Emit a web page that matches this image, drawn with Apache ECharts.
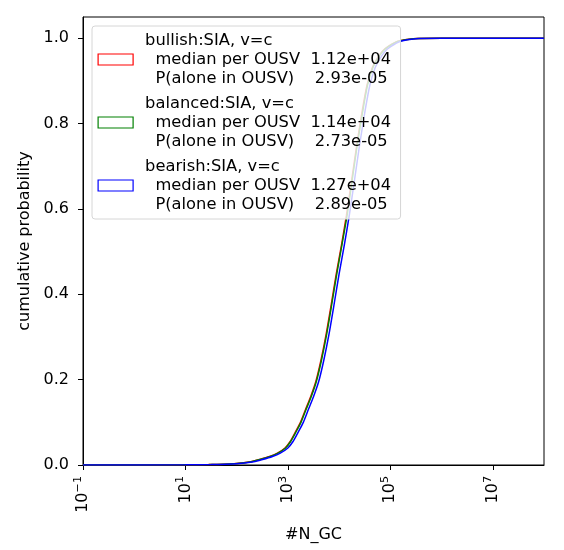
<!DOCTYPE html>
<html>
<head>
<meta charset="utf-8">
<script src="https://cdn.jsdelivr.net/npm/echarts@6/dist/echarts.min.js"></script>
<style>
  html, body { margin: 0; padding: 0; background: #fff; }
  #chart { width: 564px; height: 550px; }
</style>
</head>
<body>
<div id="chart"></div>
<script>
// cumulative probability levels shared by the three curves
var cumProb = [0, 0.0005, 0.001, 0.003, 0.007, 0.013, 0.02, 0.028, 0.04, 0.055, 0.077, 0.10, 0.13,
  0.16, 0.195, 0.245, 0.305, 0.375, 0.448, 0.515, 0.585, 0.668, 0.75, 0.825, 0.89, 0.93, 0.953,
  0.97, 0.98, 0.993, 0.999, 1, 1];

// #N_GC reached at each level
var nBullish = [0.1, 9, 28, 88, 175, 280, 440, 625, 880, 1110, 1400, 1760, 2210, 2780, 3500,
  4410, 5550, 6990, 8800, 11100, 13900, 17600, 22100, 27800, 35000, 44100, 55500, 69900,
  88000, 140000, 280000, 1000000, 100000000];
var nBalanced = [0.1, 9, 29, 90, 180, 285, 450, 640, 900, 1130, 1430, 1800, 2260, 2850, 3580,
  4510, 5680, 7150, 9000, 11300, 14300, 18000, 22600, 28500, 35800, 45100, 56800, 71500,
  90000, 143000, 285000, 1000000, 100000000];
var nBearish = [0.1, 10, 32, 100, 200, 320, 500, 710, 1000, 1260, 1590, 2000, 2510, 3160, 3980,
  5010, 6310, 7940, 10000, 12600, 15800, 20000, 25100, 31600, 39800, 50100, 63100, 79400,
  100000, 158000, 316000, 1000000, 100000000];

var seriesNames = [
  'bullish:SIA, v=c\n  median per OUSV  1.12e+04\n  P(alone in OUSV)    2.93e-05',
  'balanced:SIA, v=c\n  median per OUSV  1.14e+04\n  P(alone in OUSV)    2.73e-05',
  'bearish:SIA, v=c\n  median per OUSV  1.27e+04\n  P(alone in OUSV)    2.89e-05'
];
var seriesColors = ['#ff0000', '#008000', '#0000ff'];

var xTicks = [0.1, 10, 1000, 100000, 10000000];
var xTickExponents = ['−1', '1', '3', '5', '7'];
var yTicks = [0, 0.2, 0.4, 0.6, 0.8, 1.0];

var font = 'DejaVu Sans';
var fontSize = 16;

function pairs(xs, ys) {
  var out = [];
  for (var i = 0; i < xs.length; i++) {
    out.push([xs[i], ys[i]]);
  }
  return out;
}

var allN = [nBullish, nBalanced, nBearish];
var series = [];
var legendData = [];
for (var i = 0; i < 3; i++) {
  series.push({
    name: seriesNames[i],
    type: 'line',
    data: pairs(allN[i], cumProb),
    showSymbol: false,
    smooth: 0.25,
    lineStyle: { color: seriesColors[i], width: 1.5 },
    itemStyle: { color: seriesColors[i] }
  });
  legendData.push({
    name: seriesNames[i],
    icon: 'rect',
    itemStyle: { color: 'rgba(0,0,0,0)', borderColor: seriesColors[i], borderWidth: 1.2 }
  });
}

var option = {
  animation: false,
  grid: {
    left: 83,
    right: 20,
    top: 17,
    bottom: 85,
    outerBoundsMode: 'none',
    show: true,
    borderColor: '#000',
    borderWidth: 1
  },
  legend: {
    orient: 'vertical',
    left: 92,
    top: 26,
    padding: [5, 9.5, 5, 5.5],
    itemGap: 6,
    itemWidth: 35,
    itemHeight: 11,
    backgroundColor: 'rgba(255,255,255,0.8)',
    borderColor: '#d6d6d6',
    borderWidth: 1,
    borderRadius: 3,
    data: legendData,
    textStyle: {
      fontFamily: font,
      fontSize: 16.3,
      color: '#000',
      lineHeight: 19,
      padding: [0, 0, 0, 7]
    }
  },
  xAxis: {
    type: 'log',
    logBase: 10,
    min: 0.1,
    max: 100000000,
    name: '#N_GC',
    nameLocation: 'middle',
    nameGap: 62,
    nameTextStyle: { fontFamily: font, fontSize: fontSize, color: '#000' },
    axisLine: { lineStyle: { color: '#000', width: 1 } },
    axisTick: { customValues: xTicks, length: 5, lineStyle: { color: '#000' } },
    axisLabel: {
      customValues: xTicks,
      rotate: 90,
      margin: 11,
      formatter: function (v) {
        for (var k = 0; k < xTicks.length; k++) {
          if (Math.abs(Math.log10(v) - Math.log10(xTicks[k])) < 1e-6) {
            return '{b|10}{s|' + xTickExponents[k] + '}';
          }
        }
        return '';
      },
      rich: {
        b: { fontFamily: font, fontSize: fontSize, color: '#000' },
        s: { fontFamily: font, fontSize: 11.2, color: '#000', padding: [0, 0, 10, 0] }
      }
    },
    splitLine: { show: false },
    minorTick: { show: false }
  },
  yAxis: {
    type: 'value',
    min: 0,
    max: 1.05,
    name: 'cumulative probability',
    nameLocation: 'middle',
    nameGap: 43,
    nameTextStyle: { fontFamily: font, fontSize: fontSize, color: '#000' },
    axisLine: { show: true, lineStyle: { color: '#000', width: 1 } },
    axisTick: { show: true, customValues: yTicks, length: 5, lineStyle: { color: '#000' } },
    axisLabel: {
      customValues: yTicks,
      margin: 14,
      fontFamily: font,
      fontSize: fontSize,
      color: '#000',
      formatter: function (v) { return v.toFixed(1); }
    },
    splitLine: { show: false }
  },
  series: series
};

var chart = echarts.init(document.getElementById('chart'));
chart.setOption(option);
</script>
</body>
</html>
